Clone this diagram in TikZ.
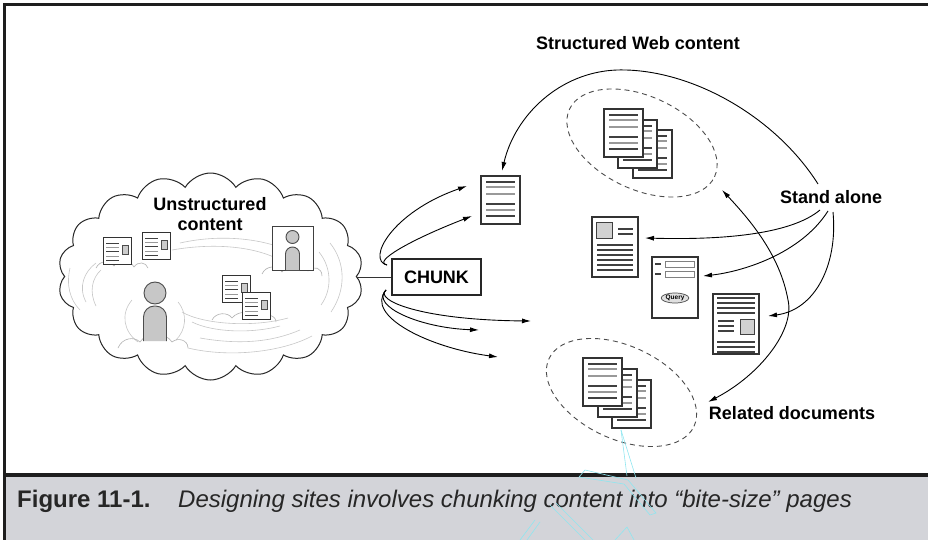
\documentclass[tikz,border=0pt]{standalone}
\usepackage{fontspec}
\setmainfont{Liberation Sans}
\usetikzlibrary{shapes.symbols,shapes.geometric,arrows.meta}
\definecolor{capbg}{HTML}{D3D4D9}
\definecolor{rulecol}{HTML}{1E1E1E}
\definecolor{wmark}{HTML}{8FE6F0}
\begin{document}
\begin{tikzpicture}[x=1pt,y=-1pt,
  lbl/.style={font=\fontsize{18}{20}\selectfont\bfseries, inner sep=0pt},
  docframe/.style={draw=black!80, line width=1.1pt, fill=white},
  darkline/.style={draw=black!75, line width=1.3pt},
  lightline/.style={draw=black!40, line width=1.3pt},
  arr/.style={-{Latex[length=9pt,width=5pt]}, line width=0.9pt},
  dblarr/.style={{Latex[length=9pt,width=5pt]}-{Latex[length=9pt,width=5pt]}, line width=0.9pt},
  grp/.style={draw=black!70, line width=0.9pt, dash pattern=on 5pt off 4pt, ellipse,
              inner sep=0pt, minimum width=160pt, minimum height=93pt, rotate=-25},
  swirl/.style={draw=black!22, line width=0.6pt},
  personfill/.style={draw=black!70, fill=black!22, line width=0.9pt},
  % page with ruled lines, used in the stacks and the single page
  pagedoc/.pic={
    \draw[docframe] (0,0) rectangle (39,48);
    \draw[darkline] (5,6) -- (34,6);
    \draw[lightline] (5,11) -- (34,11);
    \draw[lightline] (5,18) -- (34,18);
    \draw[darkline] (5,28) -- (34,28);
    \draw[lightline] (5,34) -- (34,34);
    \draw[darkline] (5,40) -- (34,40);
  },
  % small page floating in the cloud
  clouddoc/.pic={
    \draw[docframe, line width=0.8pt] (0,0) rectangle (28,27);
    \draw[darkline, line width=1pt] (3,6) -- (16,6);
    \draw[lightline, line width=1pt] (3,10) -- (16,10);
    \draw[darkline, line width=1pt] (3,14) -- (16,14);
    \draw[lightline, line width=1pt] (3,19) -- (16,19);
    \draw[darkline, line width=1pt] (3,23) -- (16,23);
    \draw[draw=black!70, fill=black!20, line width=0.7pt] (19,8) rectangle (25,17);
  },
  % page with picture at top left
  imgdoc/.pic={
    \draw[docframe] (0,0) rectangle (46,60);
    \draw[draw=black!75, fill=black!18, line width=1pt] (4,5) rectangle (20,21);
    \draw[darkline] (26,12) -- (41,12);
    \draw[darkline] (26,17) -- (41,17);
    \foreach \yy in {28,33,38,43,48,53} \draw[darkline] (5,\yy) -- (41,\yy);
  },
  % page with a query form
  formdoc/.pic={
    \draw[docframe] (0,0) rectangle (46,61);
    \draw[darkline, line width=1.6pt] (3,7) -- (9,7);
    \draw[draw=black!50, line width=0.8pt] (13,4) rectangle (42,10);
    \draw[darkline, line width=1.6pt] (3,17) -- (9,17);
    \draw[draw=black!50, line width=0.8pt] (13,14) rectangle (42,20);
    \node[ellipse, draw=black!70, fill=black!12, line width=0.7pt, inner sep=0.4pt,
          minimum width=27pt, minimum height=10pt,
          font=\fontsize{6.5}{7}\selectfont\bfseries] (query) at (23,41) {Query};
  },
  % page of text with picture at right
  textdoc/.pic={
    \draw[docframe] (0,0) rectangle (46,60);
    \foreach \yy in {4,9,14,19,48,53,58} \draw[darkline] (4,\yy) -- (42,\yy);
    \foreach \yy in {27,32,37} \draw[darkline] (5,\yy) -- (21,\yy);
    \draw[draw=black!75, fill=black!18, line width=1pt] (27,25) rectangle (41,40);
  }
]
\useasboundingbox (0,0) rectangle (928,540);

% frame and caption band
\fill[capbg] (4,475) rectangle (928,540);
\draw[rulecol, line width=4pt] (3,474.5) -- (928,474.5);
\draw[rulecol, line width=3pt] (3,5) -- (928,5);
\draw[rulecol, line width=2.5pt] (4.3,4) -- (4.3,540);
\node[anchor=base west, inner sep=0pt, font=\fontsize{24}{26}\selectfont\bfseries, text=black!85]
  (figno) at (17,507) {Figure 11-1.};
\node[anchor=base west, inner sep=0pt, font=\fontsize{24}{26}\selectfont\itshape, text=black!85]
  (figcap) at (178,507) {Designing sites involves chunking content into “bite-size” pages};

% the cloud of unstructured content
\node[cloud, draw=black!85, fill=white, line width=1pt, cloud puffs=18, cloud puff arc=118,
      aspect=1.47, minimum width=305pt, minimum height=207pt, inner sep=0pt] (cloud) at (210.5,276.5) {};

% faint swirls inside the cloud
\draw[swirl] (180,243) .. controls (220,234) and (262,238) .. (292,252);
\draw[swirl] (172,250) .. controls (212,243) and (250,246) .. (276,258);
\draw[swirl] (86,302) .. controls (78,287) and (84,272) .. (96,263);
\draw[swirl] (96,306) .. controls (89,292) and (92,278) .. (101,270);
\draw[swirl] (330,243) .. controls (346,263) and (346,290) .. (331,312);
\draw[swirl] (319,252) .. controls (332,268) and (332,290) .. (321,305);
\draw[swirl] (188,348) .. controls (230,358) and (282,352) .. (312,336);
\draw[swirl] (200,338) .. controls (240,345) and (272,342) .. (300,330);
\draw[swirl] (182,312) .. controls (202,324) and (252,328) .. (288,318);
\draw[swirl] (192,322) .. controls (212,332) and (250,334) .. (280,326);
\draw[swirl] (132,300) .. controls (120,314) and (124,332) .. (138,342);
\draw[swirl] (178,302) .. controls (188,314) and (186,330) .. (176,340);
\draw[swirl] (70,268) .. controls (66,285) and (70,300) .. (80,310);
% small puffs under the floating items
\draw[swirl, draw=black!30] (96,268) .. controls (100,260) and (110,260) .. (114,266)
   .. controls (118,259) and (130,259) .. (134,267) .. controls (138,261) and (146,262) .. (148,268);
\draw[swirl, draw=black!30] (262,274) .. controls (266,265) and (278,265) .. (282,272)
   .. controls (288,262) and (304,262) .. (308,271) .. controls (314,265) and (322,268) .. (322,276);
\draw[swirl, draw=black!30] (212,320) .. controls (216,312) and (228,312) .. (232,318)
   .. controls (238,310) and (256,310) .. (260,318) .. controls (266,313) and (276,315) .. (276,322);
\draw[swirl, draw=black!30] (118,348) .. controls (122,338) and (134,336) .. (140,342)
   .. controls (146,332) and (166,332) .. (172,342) .. controls (178,337) and (188,340) .. (188,348);

% items floating in the cloud
\pic at (103,237) {clouddoc};
\pic at (142,232) {clouddoc};
\pic at (222,275) {clouddoc};
\pic at (242,292) {clouddoc};
\draw[draw=black!75, fill=white, line width=1pt] (272,226) rectangle (313,270);
\draw[personfill] (292.5,237) circle[radius=6.5pt];
\draw[personfill, rounded corners=7pt] (285.5,270) -- (285.5,247) -- (299.5,247) -- (299.5,270);
\draw[personfill] (155,293) circle[radius=11pt];
\draw[personfill, rounded corners=11pt] (143.5,341) -- (143.5,306) -- (166.5,306) -- (166.5,341);

\node[lbl, align=center] (unstr) at (210,214) {Unstructured\\content};

% chunking step
\node[draw=black!85, line width=1.1pt, minimum width=89pt, minimum height=36pt, inner sep=0pt,
      font=\fontsize{18}{20}\selectfont\bfseries] (chunk) at (436.5,277) {CHUNK};
\draw[line width=1pt, black!80] (cloud.east |- chunk.west) -- (chunk.west);

\coordinate (hookup) at (387,265);
\coordinate (hookdn) at (386,290);
\coordinate (up1) at (467,186);
\coordinate (up2) at (472,216);
\coordinate (dn1) at (531,321);
\coordinate (dn2) at (479,330);
\coordinate (dn3) at (498,357);
\draw[arr] (hookup) .. controls (366,260) and (392,212) .. (up1);
\draw[arr] (hookup) .. controls (372,262) and (410,240) .. (up2);
\draw[arr] (hookdn) .. controls (374,300) and (420,320) .. (dn1);
\draw[arr] (hookdn) .. controls (370,306) and (420,328) .. (dn2);
\draw[arr] (hookdn) .. controls (364,316) and (430,348) .. (dn3);

% structured web content
\node[lbl] (structured) at (638,43) {Structured Web content};
\node[lbl] (standalone) at (831,197) {Stand alone};
\node[lbl] (related) at (792,413) {Related documents};

\node[grp] (topgrp) at (642,143) {};
\pic at (633,130) {pagedoc};
\pic at (618,120) {pagedoc};
\pic at (604,109) {pagedoc};

\node[grp] (botgrp) at (621.5,392.5) {};
\pic at (612,380) {pagedoc};
\pic at (598,369) {pagedoc};
\pic at (583,358) {pagedoc};

\pic at (481,176) {pagedoc};
\pic at (592,217) {imgdoc};
\pic at (652,257) {formdoc};
\pic at (713,294) {textdoc};

% connectors from the labels
\coordinate (sa0) at (818,184);
\coordinate (sa1) at (820,210);
\coordinate (sa2) at (828,211);
\coordinate (sa3) at (833,212);
\coordinate (single) at (502,171);
\coordinate (toA) at (645,238);
\coordinate (toB) at (703,276);
\coordinate (toC) at (768,316);
\coordinate (relend) at (708,402);
\coordinate (grpend) at (722,190);
\draw[arr] (sa0) .. controls (775,116) and (690,68) .. (617,70)
              .. controls (560,72) and (515,115) .. (single);
\draw[arr] (sa1) .. controls (790,235) and (720,240) .. (toA);
\draw[arr] (sa2) .. controls (800,255) and (740,272) .. (toB);
\draw[arr] (sa3) .. controls (838,265) and (815,310) .. (toC);
\draw[dblarr] (relend) .. controls (760,375) and (795,330) .. (788,300)
                 .. controls (780,255) and (750,220) .. (grpend);

% faint compass mark near the lower group
\begin{scope}[draw=wmark, line width=0.6pt]
  \draw (621,430) -- (627,476);
  \draw (621,430) -- (636,478);
  \draw (585,470) -- (628,480) -- (656,513) -- (650,515) -- (624,484) -- (579,477) -- cycle;
  \draw (550,505) -- (585,540);
  \draw (556,503) -- (593,540);
  \draw (535,520) -- (520,540);
  \draw (540,522) -- (527,540);
  \draw (627,527) -- (615,540);
  \draw (627,527) -- (634,540);
\end{scope}
\end{tikzpicture}
\end{document}
